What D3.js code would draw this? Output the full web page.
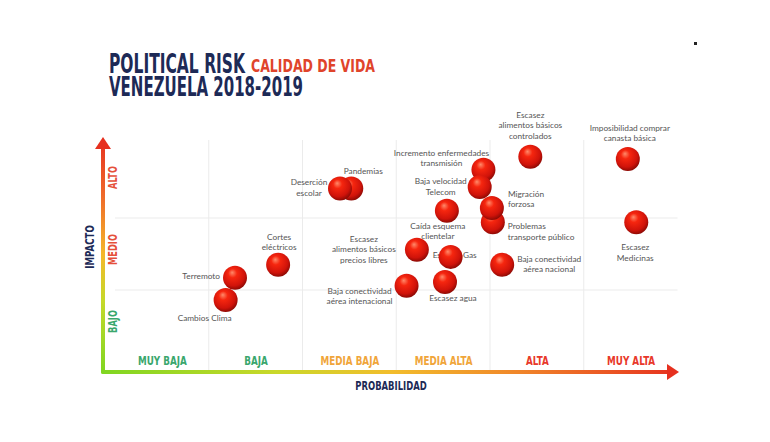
<!DOCTYPE html>
<html>
<head>
<meta charset="utf-8">
<script src="https://cdn.jsdelivr.net/npm/d3@7"></script>
<style>
html, body { margin: 0; padding: 0; background: #fff; }
svg { display: block; }
.cond { font-family: "Liberation Sans Narrow", "Arial Narrow", "DejaVu Sans Condensed", sans-serif; font-weight: 700; }
.risk-label { font-family: Lato, "Open Sans", sans-serif; font-size: 8.3px; font-weight: 400; fill: #555; }
</style>
</head>
<body>
<div id="chart"></div>
<script>
// Risk matrix: probability (0-6 bands) vs impact (0-3 bands)
const probabilityLevels = ["MUY BAJA", "BAJA", "MEDIA BAJA", "MEDIA ALTA", "ALTA", "MUY ALTA"];
const impactLevels = ["BAJO", "MEDIO", "ALTO"];

const riskNames = [
    "Terremoto", "Cambios Clima", "Cortes\neléctricos", "Pandemias", "Deserción\nescolar",
    "Escasez\nalimentos básicos\nprecios libres", "Baja conectividad\naérea intenacional",
    "Escasez agua", "Escasez Gas", "Caída esquema\nclientelar",
    "Incremento enfermedades\ntransmisión", "Baja velocidad\nTelecom",
    "Problemas\ntransporte público", "Migración\nforzosa", "Baja conectividad\naérea nacional",
    "Escasez\nalimentos básicos\ncontrolados", "Imposibilidad comprar\ncanasta básica", "Escasez\nMedicinas"
];
const probability = [1.28, 1.18, 1.74, 2.52, 2.40, 3.22, 3.11, 3.52, 3.58, 3.54, 3.93, 3.89, 4.03, 4.02, 4.13, 4.43, 5.47, 5.56];
const impact = [1.17, 0.86, 1.35, 2.41, 2.41, 1.56, 1.06, 1.11, 1.46, 2.10, 2.67, 2.43, 1.94, 2.14, 1.35, 2.85, 2.82, 1.94];

// label offset from the ball centre: [dx, first baseline dy, anchor]
const labelPlacement = [
    [-15, 1, "end"], [-21, 21, "middle"], [1, -25, "middle"], [12, -14, "middle"], [-31, -3, "middle"],
    [-53, -8, "middle"], [-47, 8, "middle"], [8, 19, "middle"], [4, 1, "middle"], [-9, 18, "middle"],
    [-42, -14, "middle"], [-39, -3, "middle"], [15, 7, "start"], [16, -11, "start"], [47, -3, "middle"],
    [0, -39, "middle"], [2, -28, "middle"], [-1, 28, "middle"]
];

const width = 770;
const height = 442;
const navy = "#1d2a56";
const levelColors = ["#3aa76d", "#3aa76d", "#f0a53a", "#f0a53a", "#e8382a", "#e8382a"];
const impactColors = ["#3aa76d", "#e5503a", "#e5503a"];

const data = riskNames.map((name, i) => ({
    name,
    probability: probability[i],
    impact: impact[i],
    place: labelPlacement[i]
}));

const x = d3.scaleLinear().domain([0, 6]).range([115, 677.5]);
const y = d3.scaleLinear().domain([0, 3]).range([362, 146]);
const axisX = 103;
const axisY = 372;

const svg = d3.select("#chart")
    .append("svg")
    .attr("width", width)
    .attr("height", height);

const defs = svg.append("defs");

const ball = defs.append("radialGradient")
    .attr("id", "ball")
    .attr("cx", "45%").attr("cy", "40%").attr("r", "62%")
    .attr("fx", "38%").attr("fy", "28%");
ball.append("stop").attr("offset", "0%").attr("stop-color", "#ff8a6a");
ball.append("stop").attr("offset", "30%").attr("stop-color", "#f6260f");
ball.append("stop").attr("offset", "75%").attr("stop-color", "#d0130a");
ball.append("stop").attr("offset", "100%").attr("stop-color", "#860904");

const vGrad = defs.append("linearGradient")
    .attr("id", "vgrad").attr("gradientUnits", "userSpaceOnUse")
    .attr("x1", 0).attr("y1", axisY).attr("x2", 0).attr("y2", 137);
[[0, "#80d622"], [0.3, "#c5d92a"], [0.5, "#f4b82a"], [0.75, "#ef6a2a"], [1, "#e6301f"]]
    .forEach(([o, c]) => vGrad.append("stop").attr("offset", o).attr("stop-color", c));

const hGrad = defs.append("linearGradient")
    .attr("id", "hgrad").attr("gradientUnits", "userSpaceOnUse")
    .attr("x1", axisX).attr("y1", 0).attr("x2", 680).attr("y2", 0);
[[0, "#80d622"], [0.3, "#c9d82a"], [0.5, "#f2bd2c"], [0.72, "#f0862a"], [1, "#e6301f"]]
    .forEach(([o, c]) => hGrad.append("stop").attr("offset", o).attr("stop-color", c));

function squeeze(sel, factor) {
    sel.each(function () {
        const w = this.getComputedTextLength();
        this.setAttribute("textLength", w * factor);
        this.setAttribute("lengthAdjust", "spacingAndGlyphs");
    });
}

// title
svg.append("text").attr("class", "cond").attr("x", 109).attr("y", 73)
    .attr("font-size", 27).attr("fill", navy)
    .attr("textLength", 136).attr("lengthAdjust", "spacingAndGlyphs")
    .text("POLITICAL RISK");
svg.append("text").attr("class", "cond").attr("x", 251).attr("y", 72)
    .attr("font-size", 18).attr("fill", "#e0442b")
    .attr("textLength", 124).attr("lengthAdjust", "spacingAndGlyphs")
    .text("CALIDAD DE VIDA");
svg.append("text").attr("class", "cond").attr("x", 109).attr("y", 96)
    .attr("font-size", 27).attr("fill", navy)
    .attr("textLength", 194).attr("lengthAdjust", "spacingAndGlyphs")
    .text("VENEZUELA 2018-2019");

svg.append("rect").attr("x", 694).attr("y", 42).attr("width", 3).attr("height", 3).attr("fill", "#222");

// grid
const grid = svg.append("g").attr("stroke", "#ebebeb").attr("stroke-width", 1);
grid.selectAll(".vline")
    .data(d3.range(1, 6))
    .join("line")
    .attr("x1", d => x(d)).attr("x2", d => x(d))
    .attr("y1", 140).attr("y2", axisY);
grid.selectAll(".hline")
    .data(d3.range(1, 3))
    .join("line")
    .attr("x1", x(0)).attr("x2", x(6))
    .attr("y1", d => y(d)).attr("y2", d => y(d));

// probability band labels
const xAxis = d3.axisTop(x)
    .tickValues(probabilityLevels.map((_, i) => i + 0.5))
    .tickFormat((_, i) => probabilityLevels[i])
    .tickSize(0)
    .tickPadding(7);
const xg = svg.append("g").attr("transform", `translate(0,${axisY})`).call(xAxis);
xg.select(".domain").remove();
xg.selectAll("text")
    .attr("class", "cond")
    .attr("font-size", 12.5)
    .attr("fill", (_, i) => levelColors[i])
    .call(squeeze, 0.78);

// impact band labels
const yAxis = d3.axisRight(y)
    .tickValues(impactLevels.map((_, i) => i + 0.5))
    .tickFormat((_, i) => impactLevels[i])
    .tickSize(0);
const yg = svg.append("g").attr("transform", `translate(${axisX},-5)`).call(yAxis);
yg.select(".domain").remove();
yg.selectAll("text")
    .attr("class", "cond")
    .attr("font-size", 11.5)
    .attr("fill", (_, i) => impactColors[i])
    .attr("text-anchor", "middle")
    .attr("x", 0).attr("dy", null)
    .attr("y", 14)
    .attr("transform", "rotate(-90)")
    .call(squeeze, 0.8);

// axis lines with gradient and arrows
svg.append("line")
    .attr("x1", axisX).attr("x2", axisX).attr("y1", 146).attr("y2", axisY)
    .attr("stroke", "url(#vgrad)").attr("stroke-width", 4).attr("stroke-linecap", "round");
svg.append("line")
    .attr("x1", axisX).attr("x2", 670).attr("y1", axisY).attr("y2", axisY)
    .attr("stroke", "url(#hgrad)").attr("stroke-width", 4).attr("stroke-linecap", "round");
svg.append("path")
    .attr("d", `M${axisX},137 L${axisX + 8},149 L${axisX - 8},149 Z`)
    .attr("fill", "#e6301f");
svg.append("path")
    .attr("d", `M679,${axisY} L667,${axisY - 8} L667,${axisY + 8} Z`)
    .attr("fill", "#e6301f");

svg.append("text").attr("class", "cond")
    .attr("x", 391).attr("y", 390)
    .attr("text-anchor", "middle").attr("font-size", 12).attr("fill", navy)
    .text("PROBABILIDAD")
    .call(squeeze, 0.78);
svg.append("text").attr("class", "cond")
    .attr("transform", "translate(94,247) rotate(-90)")
    .attr("text-anchor", "middle").attr("font-size", 12).attr("fill", navy)
    .text("IMPACTO")
    .call(squeeze, 0.8);

// labels sit underneath the balls
const labels = svg.append("g")
    .selectAll("text")
    .data(data)
    .join("text")
    .attr("class", "risk-label")
    .attr("text-anchor", d => d.place[2])
    .attr("transform", d => `translate(${x(d.probability) + d.place[0]},${y(d.impact) + d.place[1]})`);

labels.selectAll("tspan")
    .data(d => d.name.split("\n"))
    .join("tspan")
    .attr("x", 0)
    .attr("y", (_, i) => i * 10.5)
    .text(t => t);

svg.append("g")
    .selectAll("circle")
    .data(data)
    .join("circle")
    .attr("cx", d => x(d.probability))
    .attr("cy", d => y(d.impact))
    .attr("r", 12)
    .attr("fill", "url(#ball)");
</script>
</body>
</html>
